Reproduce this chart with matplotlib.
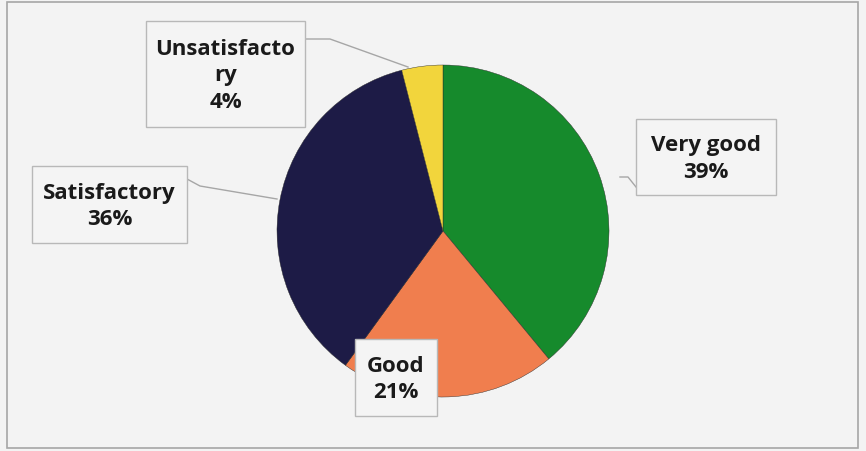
import matplotlib.pyplot as plt
from matplotlib.patches import Rectangle

labels = ['Very good', 'Good', 'Satisfactory', 'Unsatisfactory']
shares = [39, 21, 36, 4]
colors = ['#168a2c', '#f07e4e', '#1d1b46', '#f2d53c']

# label text as it wraps in the boxes, and box placement in pixels (x0, y0, x1, y1, y from top)
box_text = ['Very good\n39%', 'Good\n21%', 'Satisfactory\n36%', 'Unsatisfacto\nry\n4%']
boxes = [(636, 120, 776, 196), (355, 340, 437, 417), (32, 167, 187, 244), (146, 22, 305, 128)]
leaders = [[(620, 178), (628, 178), (636, 188)], None,
           [(187, 180), (200, 187), (277, 200)], [(305, 40), (330, 40), (408, 68)]]

W, H = 866, 452
fig = plt.figure(figsize=(W / 100, H / 100), dpi=100)
fig.patch.set_facecolor('#f3f3f3')
ax = fig.add_axes([0, 0, 1, 1])

# outer chart frame
ax.add_patch(Rectangle((7, 3), 851, 446, fill=False, edgecolor='#a6a6a6', lw=1.2))

ax.pie(shares, colors=colors, startangle=90, counterclock=False,
       center=(443, H - 232), radius=166, frame=True,
       wedgeprops={'edgecolor': '#2a2a2a', 'linewidth': 0.3})
ax.set_xlim(0, W)
ax.set_ylim(0, H)
ax.set_aspect('equal')
ax.axis('off')

for txt, (x0, y0, x1, y1), ld in zip(box_text, boxes, leaders):
    if ld is not None:
        ax.plot([p[0] for p in ld], [H - p[1] for p in ld], color='#a6a6a6', lw=1, zorder=3)
    ax.add_patch(Rectangle((x0, H - y1), x1 - x0, y1 - y0, facecolor='#f4f4f4',
                           edgecolor='#b8b8b8', lw=1, zorder=4))
    ax.text((x0 + x1) / 2, H - (y0 + y1) / 2 - 1, txt, ha='center', va='center',
            fontsize=16, fontweight='bold', family='Open Sans', color='#1a1a1a',
            linespacing=1.32, zorder=5)

fig.savefig('out.png', dpi=100, facecolor=fig.get_facecolor())
